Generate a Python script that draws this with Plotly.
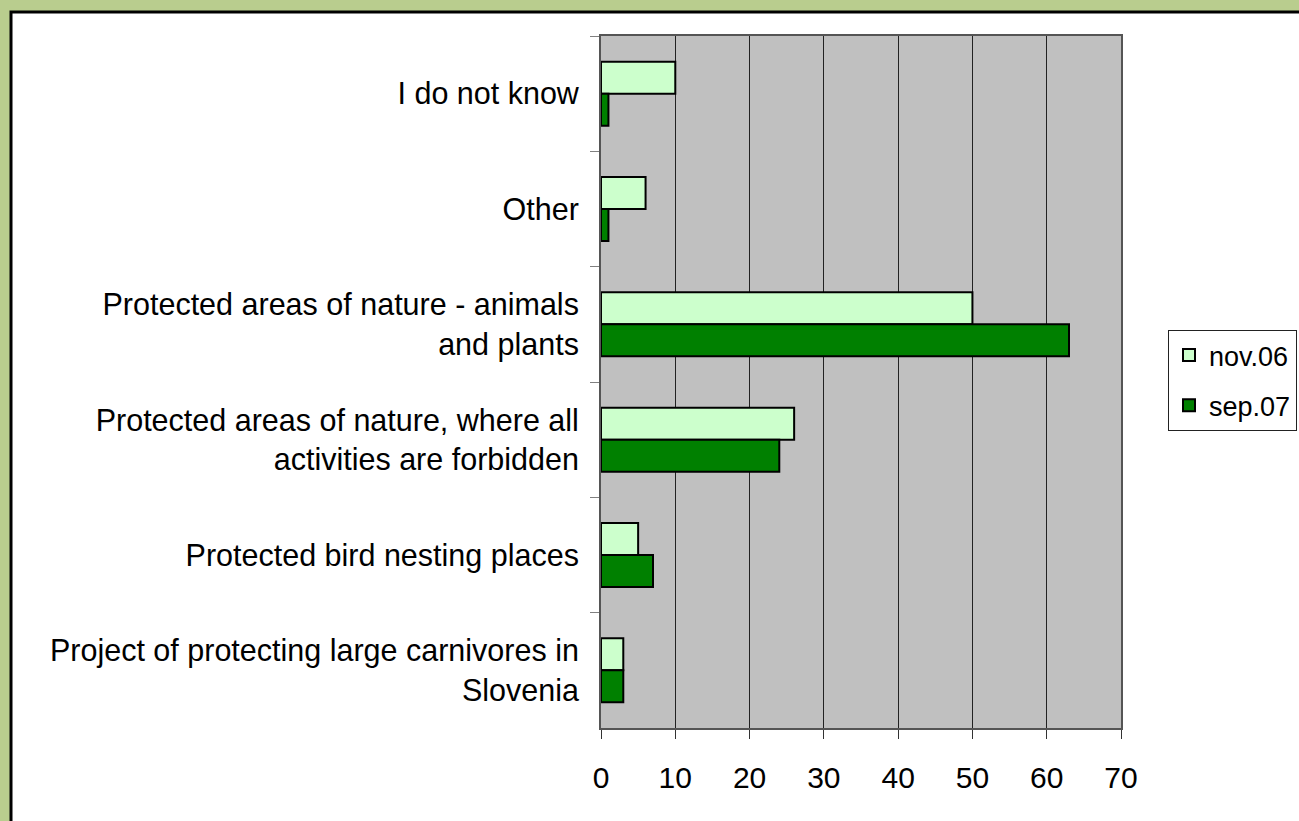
import plotly.graph_objects as go

categories = [
    "I do not know",
    "Other",
    "Protected areas of nature - animals<br>and plants",
    "Protected areas of nature, where all<br>activities are forbidden",
    "Protected bird nesting places",
    "Project of protecting large carnivores in<br>Slovenia",
]
nov06 = [10, 6, 50, 26, 5, 3]
sep07 = [1, 1, 63, 24, 7, 3]
series_names = ["nov.06", "sep.07"]
x_ticks = [0, 10, 20, 30, 40, 50, 60, 70]

W, H = 1299, 821
L, R, T, B = 601, 1121, 36, 728

def px(xp):
    return (xp - L) / (R - L)

def py(yp):
    return (B - yp) / (B - T)

fig = go.Figure()
fig.add_trace(go.Bar(y=categories, x=nov06, name=series_names[0], orientation="h",
                     marker=dict(color="#CCFFCC", line=dict(color="black", width=2)),
                     legendgroup="a"))
fig.add_trace(go.Bar(y=categories, x=sep07, name=series_names[1], orientation="h",
                     marker=dict(color="#008000", line=dict(color="black", width=2)),
                     legendgroup="b"))

shapes = [
    # white content box with black border
    dict(type="rect", xref="paper", yref="paper", layer="below",
         x0=px(11), x1=px(1320), y0=py(12), y1=py(840),
         fillcolor="white", line=dict(color="black", width=3)),
    # grey plot area background
    dict(type="rect", xref="paper", yref="paper", layer="below",
         x0=0, x1=1, y0=0, y1=1, fillcolor="#C0C0C0", line=dict(width=0)),
]

fig.update_layout(
    template="none",
    width=W, height=H,
    margin=dict(l=L, r=W - R, t=T, b=H - B, pad=0, autoexpand=False),
    paper_bgcolor="#b9cd8e",
    plot_bgcolor="#C0C0C0",
    barmode="group",
    bargap=0.445,
    bargroupgap=0,
    font=dict(family="Liberation Sans, Arial, sans-serif", color="black"),
    shapes=shapes,
    showlegend=True,
    legend=dict(x=px(1168), y=py(330), xanchor="left", yanchor="top",
                bgcolor="white", bordercolor="#222222", borderwidth=1,
                font=dict(size=27), tracegroupgap=12, traceorder="grouped"),
    xaxis=dict(range=[0, 70], tickvals=x_ticks, showgrid=True, gridcolor="#222222",
               gridwidth=1, zeroline=False, ticks="outside", ticklen=9,
               tickcolor="#333333", showline=True, linecolor="#555555", linewidth=2,
               mirror=True, tickfont=dict(size=30), ticklabelstandoff=13,
               automargin=False, fixedrange=True),
    yaxis=dict(autorange="reversed", type="category", showgrid=False,
               ticks="outside", tickson="boundaries", ticklen=9, tickcolor="#808080",
               showline=True, linecolor="#555555", linewidth=2, mirror=True,
               tickfont=dict(size=30.5), ticklabelstandoff=14, automargin=False,
               fixedrange=True),
)

fig.write_html("out.html", config={"displayModeBar": False},
               post_script="document.body.style.margin='0';")
